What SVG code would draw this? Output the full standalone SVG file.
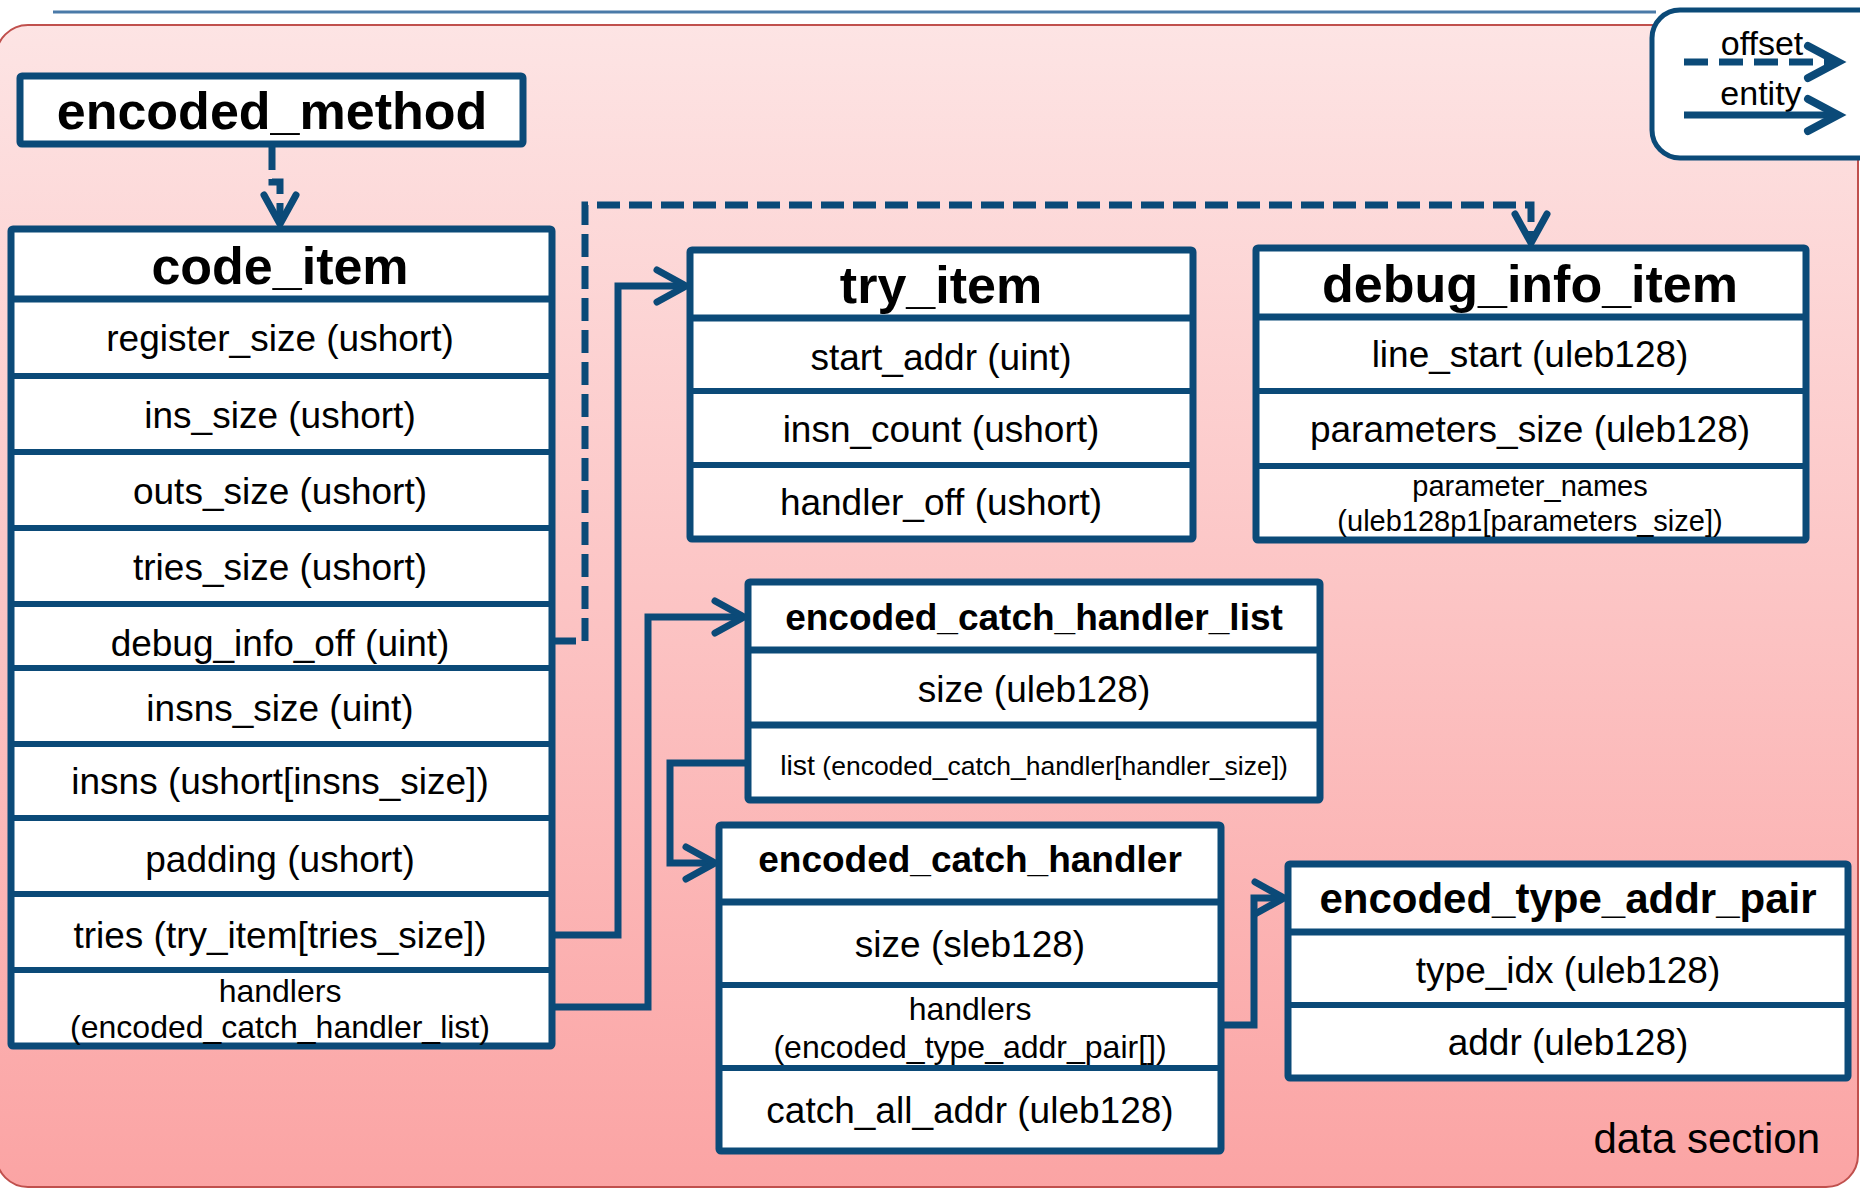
<svg xmlns="http://www.w3.org/2000/svg" width="1860" height="1188" viewBox="0 0 1860 1188">
  <defs>
    <linearGradient id="bgGrad" x1="0" y1="0" x2="0" y2="1">
      <stop offset="0" stop-color="#fde4e4"/>
      <stop offset="1" stop-color="#fba4a4"/>
    </linearGradient>
    <marker id="chev" markerUnits="userSpaceOnUse" viewBox="-40 -24 48 48" refX="0" refY="0" markerWidth="48" markerHeight="48" orient="auto" overflow="visible">
      <path d="M-29,-16 L0,0 L-29,16" fill="none" stroke="#0b4a78" stroke-width="7" stroke-linecap="round" stroke-linejoin="miter" stroke-dasharray="none"/>
    </marker>
    <style>
      .box { fill: #ffffff; stroke: #0b4a78; stroke-width: 7; }
      .sep { stroke: #0b4a78; stroke-width: 6; }
      .hsep { stroke: #0b4a78; stroke-width: 7; }
      text { font-family: "Liberation Sans", Arial, sans-serif; fill: #000000; text-anchor: middle; }
      .title { font-weight: bold; font-size: 52px; }
      .title37 { font-weight: bold; font-size: 37px; }
      .title42 { font-weight: bold; font-size: 42px; }
      .field { font-size: 37px; }
      .small { font-size: 32px; }
      .tiny { font-size: 29px; }
      .conn { fill: none; stroke: #0b4a78; stroke-width: 7; stroke-linejoin: miter; }
      .dash { stroke-dasharray: 23 9; }
    </style>
  </defs>

  <!-- data section background -->
  <rect x="-4" y="25" width="1862" height="1162" rx="32" fill="url(#bgGrad)" stroke="#c0504d" stroke-width="2"/>
  <line x1="53" y1="12" x2="1656" y2="12" stroke="#4a7aa8" stroke-width="3"/>
  <text x="1820" y="1153" font-size="42" style="text-anchor:end">data section</text>

  <!-- legend -->
  <g id="legend">
    <rect x="1652" y="10" width="240" height="148" rx="28" fill="#ffffff" stroke="#0b4a78" stroke-width="5"/>
    <text x="1762" y="55" font-size="34">offset</text>
    <text x="1761" y="105" font-size="34">entity</text>
    <path class="conn" d="M1684,62 H1832" stroke-width="8" style="stroke-dasharray:24 11"/>
    <path d="M1808,46 L1838,62 L1808,78" fill="none" stroke="#0b4a78" stroke-width="8" stroke-linecap="round"/>
    <path class="conn" d="M1684,115 H1834" stroke-width="8"/>
    <path d="M1808,99 L1838,115 L1808,131" fill="none" stroke="#0b4a78" stroke-width="8" stroke-linecap="round"/>
  </g>

  <!-- connectors -->
  <g id="connectors">
    <path class="conn dash" d="M272,147 V182 H280 V224" marker-end="url(#chev)"/>
    <path class="conn dash" d="M553,641 H585 V205 H1531 V243" marker-end="url(#chev)"/>
    <path class="conn" d="M553,935 H618 V286 H686" marker-end="url(#chev)"/>
    <path class="conn" d="M553,1007 H648 V617 H744" marker-end="url(#chev)"/>
    <path class="conn" d="M746,763 H670 V863 H715" marker-end="url(#chev)"/>
    <path class="conn" d="M1223,1025 H1254 V898 H1284" marker-end="url(#chev)"/>
  </g>

  <g id="encoded_method">
    <rect class="box" x="20" y="76" width="503" height="68" rx="2"/>
    <text class="title" x="272" y="129">encoded_method</text>
  </g>

  <g id="code_item">
    <rect class="box" x="11" y="229" width="541" height="817" rx="2"/>
    <line class="hsep" x1="11" y1="299" x2="552" y2="299"/>
    <line class="sep" x1="11" y1="376" x2="552" y2="376"/>
    <line class="sep" x1="11" y1="452" x2="552" y2="452"/>
    <line class="sep" x1="11" y1="528" x2="552" y2="528"/>
    <line class="sep" x1="11" y1="604" x2="552" y2="604"/>
    <line class="sep" x1="11" y1="668" x2="552" y2="668"/>
    <line class="sep" x1="11" y1="744" x2="552" y2="744"/>
    <line class="sep" x1="11" y1="818" x2="552" y2="818"/>
    <line class="sep" x1="11" y1="894" x2="552" y2="894"/>
    <line class="sep" x1="11" y1="970" x2="552" y2="970"/>
    <text class="title" x="280" y="284">code_item</text>
    <text class="field" x="280" y="351">register_size (ushort)</text>
    <text class="field" x="280" y="428">ins_size (ushort)</text>
    <text class="field" x="280" y="504">outs_size (ushort)</text>
    <text class="field" x="280" y="580">tries_size (ushort)</text>
    <text class="field" x="280" y="656">debug_info_off (uint)</text>
    <text class="field" x="280" y="721">insns_size (uint)</text>
    <text class="field" x="280" y="794">insns (ushort[insns_size])</text>
    <text class="field" x="280" y="872">padding (ushort)</text>
    <text class="field" x="280" y="948">tries (try_item[tries_size])</text>
    <text class="small" x="280" y="1002">handlers</text>
    <text class="small" x="280" y="1038">(encoded_catch_handler_list)</text>
  </g>

  <g id="try_item">
    <rect class="box" x="690" y="250" width="503" height="289" rx="2"/>
    <line class="hsep" x1="690" y1="318" x2="1193" y2="318"/>
    <line class="sep" x1="690" y1="391" x2="1193" y2="391"/>
    <line class="sep" x1="690" y1="465" x2="1193" y2="465"/>
    <text class="title" x="941" y="303">try_item</text>
    <text class="field" x="941" y="370">start_addr (uint)</text>
    <text class="field" x="941" y="442">insn_count (ushort)</text>
    <text class="field" x="941" y="515">handler_off (ushort)</text>
  </g>

  <g id="debug_info_item">
    <rect class="box" x="1256" y="248" width="550" height="292" rx="2"/>
    <line class="hsep" x1="1256" y1="317" x2="1806" y2="317"/>
    <line class="sep" x1="1256" y1="391" x2="1806" y2="391"/>
    <line class="sep" x1="1256" y1="466" x2="1806" y2="466"/>
    <text class="title" x="1530" y="302">debug_info_item</text>
    <text class="field" x="1530" y="367">line_start (uleb128)</text>
    <text class="field" x="1530" y="442">parameters_size (uleb128)</text>
    <text class="tiny" x="1530" y="496">parameter_names</text>
    <text class="tiny" x="1530" y="531">(uleb128p1[parameters_size])</text>
  </g>

  <g id="encoded_catch_handler_list">
    <rect class="box" x="748" y="582" width="572" height="218" rx="2"/>
    <line class="hsep" x1="748" y1="650" x2="1320" y2="650"/>
    <line class="hsep" x1="748" y1="725" x2="1320" y2="725"/>
    <text class="title37" x="1034" y="630">encoded_catch_handler_list</text>
    <text class="field" x="1034" y="702">size (uleb128)</text>
    <text x="1034" y="775" font-size="26.5"><tspan font-size="28.5">list</tspan> (encoded_catch_handler[handler_size])</text>
  </g>

  <g id="encoded_catch_handler">
    <rect class="box" x="719" y="825" width="502" height="326" rx="2"/>
    <line class="hsep" x1="719" y1="902" x2="1221" y2="902"/>
    <line class="sep" x1="719" y1="985" x2="1221" y2="985"/>
    <line class="sep" x1="719" y1="1068" x2="1221" y2="1068"/>
    <text class="title37" x="970" y="872">encoded_catch_handler</text>
    <text class="field" x="970" y="957">size (sleb128)</text>
    <text class="small" x="970" y="1020">handlers</text>
    <text class="small" x="970" y="1058">(encoded_type_addr_pair[])</text>
    <text class="field" x="970" y="1123">catch_all_addr (uleb128)</text>
  </g>

  <g id="encoded_type_addr_pair">
    <rect class="box" x="1288" y="864" width="560" height="214" rx="2"/>
    <line class="hsep" x1="1288" y1="932" x2="1848" y2="932"/>
    <line class="sep" x1="1288" y1="1005" x2="1848" y2="1005"/>
    <text class="title42" x="1568" y="913">encoded_type_addr_pair</text>
    <text class="field" x="1568" y="983">type_idx (uleb128)</text>
    <text class="field" x="1568" y="1055">addr (uleb128)</text>
  </g>
</svg>
